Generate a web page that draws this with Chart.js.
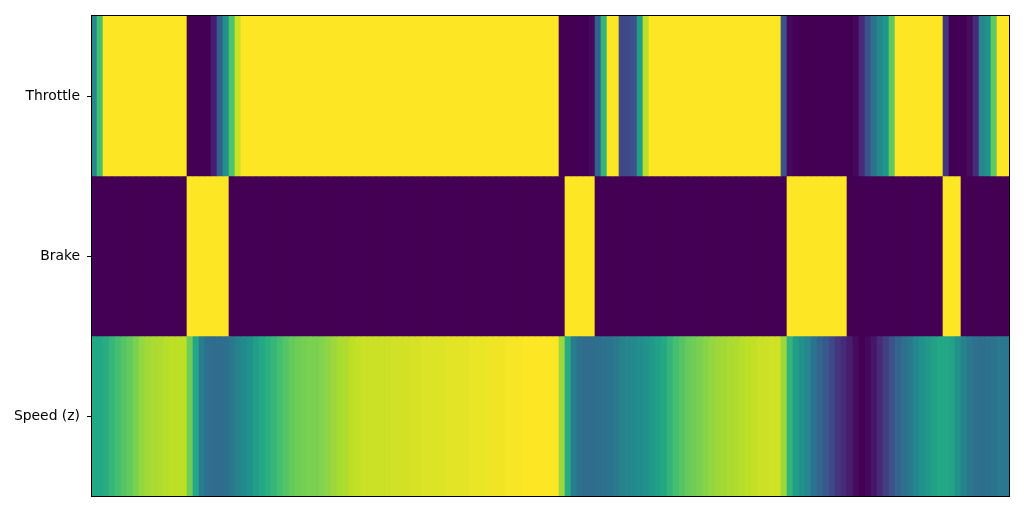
<!DOCTYPE html>
<html>
<head>
<meta charset="utf-8">
<script src="https://cdn.jsdelivr.net/npm/chart.js@4.4.0/dist/chart.umd.min.js"></script>
<style>
  html, body { margin: 0; padding: 0; background: #ffffff; }
  canvas { display: block; }
</style>
</head>
<body>
<canvas id="heatmap" width="1024" height="512"></canvas>
<script>
// rows, top to bottom
const rowLabels = ['Throttle', 'Brake', 'Speed (z)'];

// one value per time column (153 columns), colour scale 0..1
const throttle = [0.45, 0.7, 1, 1, 1, 1, 1, 1, 1, 1, 1, 1, 1, 1, 1, 1, 0, 0, 0, 0,
    0.08, 0.3, 0.5, 0.72, 0.92, 1, 1, 1, 1, 1, 1, 1, 1, 1, 1, 1, 1, 1, 1, 1,
    1, 1, 1, 1, 1, 1, 1, 1, 1, 1, 1, 1, 1, 1, 1, 1, 1, 1, 1, 1,
    1, 1, 1, 1, 1, 1, 1, 1, 1, 1, 1, 1, 1, 1, 1, 1, 1, 1, 0, 0,
    0, 0, 0, 0.02, 0.3, 0.65, 1, 1, 0.22, 0.22, 0.25, 0.55, 0.9, 1, 1, 1, 1, 1, 1, 1,
    1, 1, 1, 1, 1, 1, 1, 1, 1, 1, 1, 1, 1, 1, 1, 0.25, 0.02, 0, 0, 0,
    0, 0, 0, 0, 0, 0, 0, 0.02, 0.12, 0.25, 0.38, 0.47, 0.52, 0.75, 1, 1, 1, 1, 1, 1,
    1, 1, 0.15, 0, 0, 0, 0.03, 0.12, 0.45, 0.5, 0.75, 1, 1];

const brake = [0, 0, 0, 0, 0, 0, 0, 0, 0, 0, 0, 0, 0, 0, 0, 0, 1, 1, 1, 1,
    1, 1, 1, 0, 0, 0, 0, 0, 0, 0, 0, 0, 0, 0, 0, 0, 0, 0, 0, 0,
    0, 0, 0, 0, 0, 0, 0, 0, 0, 0, 0, 0, 0, 0, 0, 0, 0, 0, 0, 0,
    0, 0, 0, 0, 0, 0, 0, 0, 0, 0, 0, 0, 0, 0, 0, 0, 0, 0, 0, 1,
    1, 1, 1, 1, 0, 0, 0, 0, 0, 0, 0, 0, 0, 0, 0, 0, 0, 0, 0, 0,
    0, 0, 0, 0, 0, 0, 0, 0, 0, 0, 0, 0, 0, 0, 0, 0, 1, 1, 1, 1,
    1, 1, 1, 1, 1, 1, 0, 0, 0, 0, 0, 0, 0, 0, 0, 0, 0, 0, 0, 0,
    0, 0, 1, 1, 1, 0, 0, 0, 0, 0, 0, 0, 0];

const speed = [0.6, 0.6, 0.62, 0.66, 0.7, 0.73, 0.76, 0.8, 0.84, 0.86, 0.87, 0.88, 0.89, 0.9, 0.9, 0.9, 0.78, 0.6, 0.42, 0.36,
    0.35, 0.35, 0.36, 0.4, 0.44, 0.47, 0.5, 0.55, 0.6, 0.63, 0.66, 0.7, 0.73, 0.76, 0.78, 0.79, 0.8, 0.8, 0.81, 0.83,
    0.85, 0.87, 0.88, 0.9, 0.91, 0.92, 0.92, 0.92, 0.92, 0.92, 0.93, 0.93, 0.93, 0.94, 0.94, 0.95, 0.95, 0.95, 0.95, 0.96,
    0.96, 0.96, 0.96, 0.97, 0.97, 0.97, 0.98, 0.98, 0.98, 0.99, 0.99, 0.99, 1, 1, 1, 1, 1, 1, 0.85, 0.62,
    0.42, 0.37, 0.35, 0.35, 0.36, 0.37, 0.38, 0.4, 0.44, 0.46, 0.47, 0.48, 0.5, 0.53, 0.56, 0.6, 0.65, 0.7, 0.73, 0.76,
    0.78, 0.8, 0.82, 0.84, 0.85, 0.86, 0.87, 0.88, 0.89, 0.9, 0.91, 0.92, 0.92, 0.93, 0.93, 0.85, 0.65, 0.55, 0.5, 0.45,
    0.38, 0.32, 0.28, 0.22, 0.16, 0.12, 0.08, 0.03, 0.0, 0.02, 0.06, 0.12, 0.18, 0.25, 0.32, 0.36, 0.4, 0.45, 0.5, 0.53,
    0.57, 0.6, 0.6, 0.58, 0.5, 0.44, 0.4, 0.37, 0.36, 0.37, 0.38, 0.4, 0.4];

const rows = [throttle, brake, speed];

// viridis stops
const viridis = ['#440154', '#482475', '#414487', '#355f8d', '#2a788e', '#21918c',
    '#22a884', '#44bf70', '#7ad151', '#bddf26', '#fde725'];

function hexToRgb(h) {
    return [parseInt(h.slice(1, 3), 16), parseInt(h.slice(3, 5), 16), parseInt(h.slice(5, 7), 16)];
}

function viridisColor(v) {
    const t = Math.max(0, Math.min(1, v)) * (viridis.length - 1);
    const i = Math.min(Math.floor(t), viridis.length - 2);
    const f = t - i;
    const a = hexToRgb(viridis[i]);
    const b = hexToRgb(viridis[i + 1]);
    const c = a.map((x, k) => Math.round(x + (b[k] - x) * f));
    return `rgb(${c[0]}, ${c[1]}, ${c[2]})`;
}

const columns = throttle.map((_, i) => String(i));

const datasets = rows.map((values, r) => ({
    label: rowLabels[r],
    data: values.map(() => [r - 0.5, r + 0.5]),
    backgroundColor: values.map(viridisColor),
    borderWidth: 0,
    borderSkipped: false,
    barPercentage: 1,
    categoryPercentage: 1,
    grouped: false
}));

// black frame around the image: left spine on the first pixel column, right spine just outside
const framePlugin = {
    id: 'frame',
    afterDraw(chart) {
        const { ctx, chartArea } = chart;
        ctx.save();
        ctx.strokeStyle = '#000';
        ctx.lineWidth = 1;
        ctx.strokeRect(chartArea.left + 0.5, chartArea.top - 0.5,
            chartArea.right - chartArea.left, chartArea.bottom - chartArea.top + 1);
        ctx.restore();
    }
};

new Chart(document.getElementById('heatmap').getContext('2d'), {
    type: 'bar',
    data: { labels: columns, datasets: datasets },
    options: {
        responsive: false,
        animation: false,
        layout: { padding: { left: 0, top: 16, right: 15, bottom: 16 } },
        plugins: {
            legend: { display: false },
            tooltip: { enabled: false }
        },
        scales: {
            x: {
                display: false,
                offset: true
            },
            y: {
                min: -0.5,
                max: 2.5,
                reverse: true,
                afterBuildTicks: scale => {
                    scale.ticks = rowLabels.map((_, i) => ({ value: i }));
                },
                afterFit: scale => { scale.width = 91; },
                ticks: {
                    color: '#000',
                    padding: 7,
                    font: { family: 'DejaVu Sans', size: 13.9 },
                    callback: value => rowLabels[value]
                },
                grid: {
                    drawOnChartArea: false,
                    drawTicks: true,
                    tickLength: 4,
                    color: '#000'
                },
                border: { display: false }
            }
        }
    },
    plugins: [framePlugin]
});
</script>
</body>
</html>
